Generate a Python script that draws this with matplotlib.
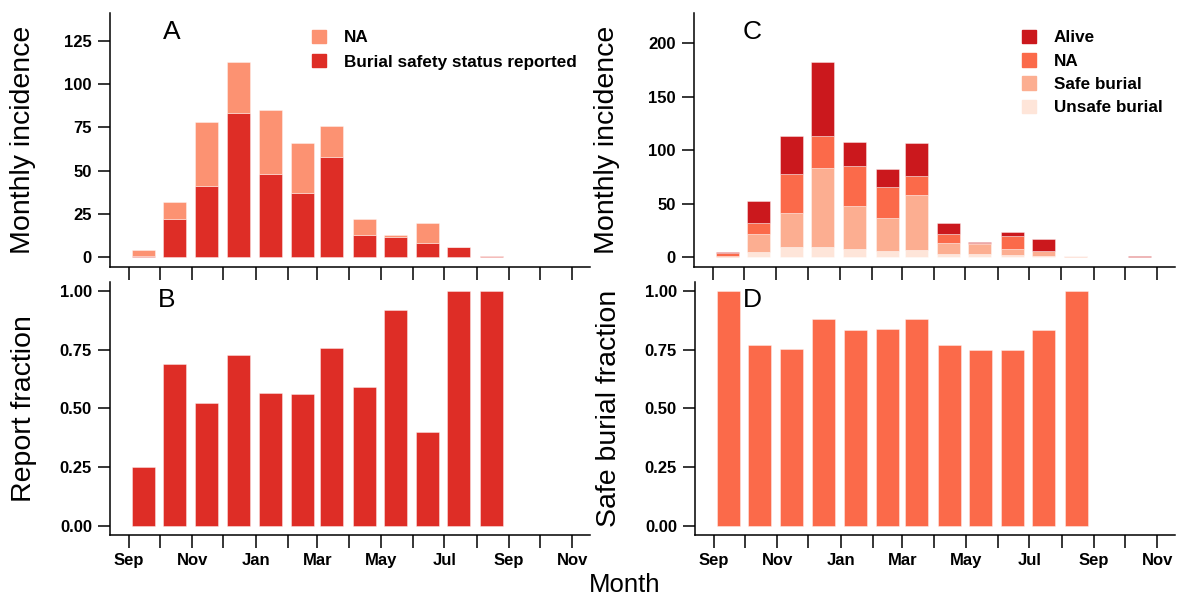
import datetime as dt
import numpy as np
import matplotlib
matplotlib.use("Agg")
import matplotlib.pyplot as plt
import matplotlib.dates as mdates
from matplotlib.patches import Patch

plt.rcParams['font.family'] = ['Liberation Sans', 'DejaVu Sans']

# months shown on the time axis (one bar per month, mid-month)
months = ["2014-09", "2014-10", "2014-11", "2014-12", "2015-01", "2015-02",
          "2015-03", "2015-04", "2015-05", "2015-06", "2015-07", "2015-08",
          "2015-09", "2015-10", "2015-11"]
month_labels = ["Sep", "", "Nov", "", "Jan", "", "Mar", "", "May", "", "Jul", "",
                "Sep", "", "Nov"]

# A : deaths, burial status reported or not
reported = [1, 22, 41, 83, 48, 37, 58, 13, 12, 8, 6, 1, 0, 0, 0]
na_status = [3, 10, 37, 30, 37, 29, 18, 9, 1, 12, 0, 0, 0, 0, 0]

# B : fraction with burial status reported (Sep 2014 - Aug 2015)
report_frac = [0.25, 0.69, 0.525, 0.73, 0.565, 0.56, 0.76, 0.59, 0.92, 0.40, 1.0, 1.0]

# C : all cases by outcome
alive = [1, 21, 35, 69, 23, 16, 31, 10, 1, 4, 11, 0, 0, 1, 0]
na_c = [3, 10, 37, 30, 37, 29, 18, 9, 1, 12, 0, 0, 0, 0, 0]
safe = [1, 17, 31, 73, 40, 31, 51, 10, 9, 6, 5, 1, 0, 0, 0]
unsafe = [0, 5, 10, 10, 8, 6, 7, 3, 3, 2, 1, 0, 0, 0, 0]

# D : safe burial fraction (Sep 2014 - Aug 2015)
safe_frac = [1.0, 0.77, 0.755, 0.88, 0.835, 0.84, 0.88, 0.77, 0.75, 0.75, 0.835, 1.0]

col_na_a, col_rep = "#FC9272", "#DE2D26"
col_alive, col_na, col_safe, col_unsafe = "#CB181D", "#FB6A4A", "#FCAE91", "#FEE5D9"


def month_start(s):
    y, m = s.split("-")
    return dt.date(int(y), int(m), 1)


starts = [month_start(m) for m in months]
x_ticks = mdates.date2num(starts)
x_mid = mdates.date2num([d + dt.timedelta(days=14) for d in starts])
bw = 22  # days
edge = dict(edgecolor=(1, 1, 1, 0.45), linewidth=0.6)
lab_size = 20.5


def style(ax, ylim, yticks, ylabels, xlabels):
    ax.spines[['top', 'right']].set_visible(False)
    for s in ['left', 'bottom']:
        ax.spines[s].set_linewidth(1.1)
    ax.set_xlim(mdates.date2num(dt.date(2014, 8, 14)), mdates.date2num(dt.date(2015, 11, 18)))
    ax.set_ylim(*ylim)
    ax.set_xticks(x_ticks)
    ax.set_xticklabels(month_labels if xlabels else [])
    ax.set_yticks(yticks)
    ax.set_yticklabels(ylabels)
    ax.tick_params(direction='out', length=9, width=1.1, labelsize=12, pad=4)
    for t in ax.get_xticklabels() + ax.get_yticklabels():
        t.set_fontweight('bold')


W, H = 1179, 598
fig = plt.figure(figsize=(W / 100, H / 100), dpi=100)


def box(l, t, r, b):
    return [l / W, 1 - b / H, (r - l) / W, (b - t) / H]


axA = fig.add_axes(box(110, 13, 590, 267))
axB = fig.add_axes(box(110, 282, 590, 535))
axC = fig.add_axes(box(694, 13, 1175, 267))
axD = fig.add_axes(box(695, 282, 1175, 535))

leg_kw = dict(loc='upper left', frameon=False, prop={'size': 12.3, 'weight': 'bold'},
              handlelength=0.85, handleheight=0.85, handletextpad=1.05,
              borderpad=0, borderaxespad=0)

# A
rep = np.array(reported)
axA.bar(x_mid, rep, bw, color=col_rep, **edge)
axA.bar(x_mid, na_status, bw, bottom=rep, color=col_na_a, **edge)
style(axA, (-5.6, 141), [0, 25, 50, 75, 100, 125], ["0", "25", "50", "75", "100", "125"], False)
axA.set_ylabel("Monthly incidence", fontsize=lab_size, va='center')
axA.yaxis.set_label_coords(-0.181, 0.5)
axA.legend(handles=[Patch(color=col_na_a), Patch(color=col_rep)],
           labels=["NA", "Burial safety status reported"],
           bbox_to_anchor=(0.42, 0.935), labelspacing=0.5, **leg_kw)
axA.text(0.129, 0.925, "A", transform=axA.transAxes, fontsize=19, ha='center', va='center')

# B
n = len(report_frac)
fr_ticks = [0, 0.25, 0.5, 0.75, 1.0]
fr_labels = ["0.00", "0.25", "0.50", "0.75", "1.00"]
axB.bar(x_mid[:n], report_frac, bw, color=col_rep, **edge)
style(axB, (-0.04, 1.04), fr_ticks, fr_labels, True)
axB.set_ylabel("Report fraction", fontsize=lab_size, va='center')
axB.yaxis.set_label_coords(-0.179, 0.5)
axB.text(0.119, 0.929, "B", transform=axB.transAxes, fontsize=19, ha='center', va='center')

# C
u = np.array(unsafe)
s = np.array(safe)
nc = np.array(na_c)
axC.bar(x_mid, u, bw, color=col_unsafe, **edge)
axC.bar(x_mid, s, bw, bottom=u, color=col_safe, **edge)
axC.bar(x_mid, nc, bw, bottom=u + s, color=col_na, **edge)
axC.bar(x_mid, alive, bw, bottom=u + s + nc, color=col_alive, **edge)
style(axC, (-9, 228), [0, 50, 100, 150, 200], ["0", "50", "100", "150", "200"], False)
axC.set_ylabel("Monthly incidence", fontsize=lab_size, va='center')
axC.yaxis.set_label_coords(-0.181, 0.5)
axC.legend(handles=[Patch(color=c) for c in [col_alive, col_na, col_safe, col_unsafe]],
           labels=["Alive", "NA", "Safe burial", "Unsafe burial"],
           bbox_to_anchor=(0.681, 0.935), labelspacing=0.45, **leg_kw)
axC.text(0.12, 0.925, "C", transform=axC.transAxes, fontsize=19, ha='center', va='center')

# D
axD.bar(x_mid[:len(safe_frac)], safe_frac, bw, color=col_na, **edge)
style(axD, (-0.04, 1.04), fr_ticks, fr_labels, True)
axD.set_ylabel("Safe burial fraction", fontsize=lab_size, va='center')
axD.yaxis.set_label_coords(-0.179, 0.5)
axD.text(0.119, 0.929, "D", transform=axD.transAxes, fontsize=19, ha='center', va='center')

fig.text(625 / W, 1 - 585 / H, "Month", fontsize=18.5, ha='center', va='center')

fig.savefig("out.png", dpi=100)
